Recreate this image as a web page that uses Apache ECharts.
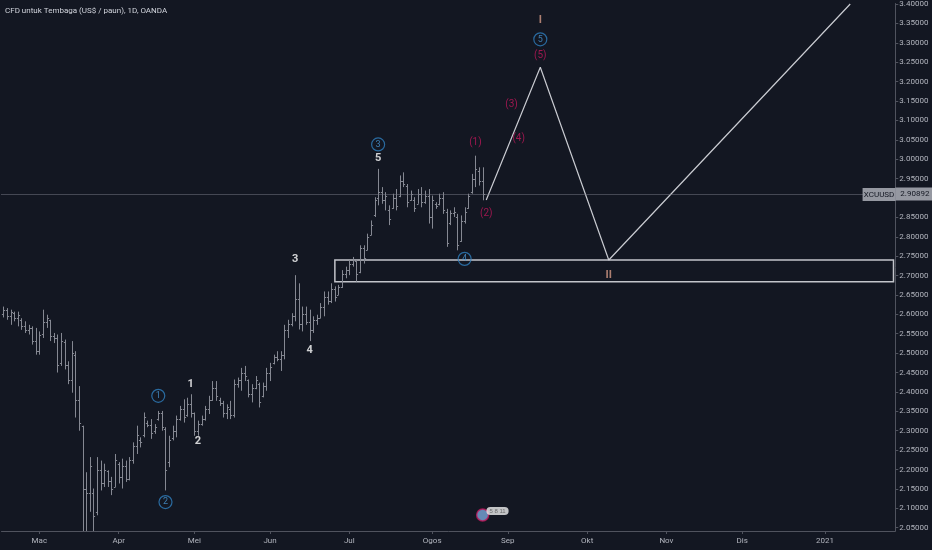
<!DOCTYPE html>
<html>
<head>
    <meta charset="utf-8">
    <title>XCUUSD</title>
    <style type="text/css">
        html, body { margin: 0; padding: 0; background: #131722; }
        #main { width: 932px; height: 550px; }
    </style>
</head>
<body>
<div id="main"></div>

<script type="text/javascript" src="https://cdn.jsdelivr.net/npm/echarts@6.0.0/dist/echarts.min.js"></script>
<script type="text/javascript">
    // bulan (Bahasa Melayu / Indonesia) for the time axis
    var monthNames = ['Jan', 'Feb', 'Mac', 'Apr', 'Mei', 'Jun', 'Jul', 'Ogos', 'Sep', 'Okt', 'Nov', 'Dis'];
    var firstDay = '2020-02-17';
    var closedDays = ['2020-04-10'];
    var dayCount = 248;

    // price axis labels
    var priceTicks = [2.05, 2.10, 2.15, 2.20, 2.25, 2.30, 2.35, 2.40, 2.45, 2.50, 2.55, 2.60, 2.65, 2.70,
        2.75, 2.80, 2.85, 2.90, 2.95, 3.00, 3.05, 3.10, 3.15, 3.20, 3.25, 3.30, 3.35, 3.40];
    var priceMin = 2.0415, priceMax = 3.4013;

    // daily bars from 2020-02-17: open, high, low, close
    var ohlc = [
        [2.600, 2.620, 2.592, 2.612], [2.612, 2.616, 2.586, 2.595], [2.597, 2.612, 2.573, 2.605],
        [2.604, 2.607, 2.582, 2.590], [2.590, 2.607, 2.569, 2.598], [2.585, 2.590, 2.560, 2.570],
        [2.570, 2.582, 2.552, 2.560], [2.560, 2.573, 2.548, 2.566], [2.565, 2.569, 2.522, 2.530],
        [2.532, 2.565, 2.496, 2.505],
        [2.505, 2.556, 2.496, 2.548], [2.550, 2.612, 2.539, 2.580], [2.580, 2.599, 2.565, 2.590],
        [2.585, 2.586, 2.531, 2.545], [2.545, 2.552, 2.526, 2.540], [2.540, 2.548, 2.450, 2.470],
        [2.475, 2.552, 2.467, 2.530], [2.528, 2.535, 2.458, 2.470], [2.470, 2.479, 2.420, 2.430],
        [2.430, 2.531, 2.398, 2.500], [2.495, 2.505, 2.334, 2.380], [2.380, 2.415, 2.300, 2.320],
        [2.312, 2.313, 2.020, 2.150], [2.150, 2.193, 2.020, 2.140], [2.140, 2.232, 2.091, 2.210],
        [2.140, 2.151, 2.020, 2.080], [2.090, 2.232, 2.082, 2.200], [2.200, 2.223, 2.146, 2.165],
        [2.165, 2.215, 2.155, 2.200], [2.195, 2.198, 2.155, 2.170], [2.170, 2.181, 2.134, 2.150],
        [2.155, 2.240, 2.155, 2.225],
        [2.215, 2.219, 2.164, 2.180], [2.180, 2.228, 2.151, 2.210], [2.210, 2.223, 2.168, 2.175],
        [2.175, 2.232, 2.172, 2.225], [2.225, 2.270, 2.215, 2.260], [2.260, 2.313, 2.240, 2.290],
        [2.275, 2.283, 2.257, 2.270], [2.290, 2.347, 2.283, 2.335], [2.320, 2.326, 2.309, 2.315],
        [2.315, 2.330, 2.279, 2.295], [2.300, 2.317, 2.292, 2.310], [2.330, 2.351, 2.326, 2.345],
        [2.345, 2.351, 2.300, 2.310], [2.305, 2.309, 2.146, 2.200], [2.220, 2.287, 2.206, 2.275],
        [2.280, 2.313, 2.275, 2.300], [2.300, 2.339, 2.283, 2.330], [2.330, 2.364, 2.326, 2.355],
        [2.355, 2.381, 2.321, 2.335], [2.340, 2.385, 2.336, 2.370], [2.370, 2.394, 2.334, 2.345],
        [2.345, 2.347, 2.287, 2.300], [2.300, 2.326, 2.287, 2.318], [2.318, 2.339, 2.313, 2.330],
        [2.330, 2.364, 2.326, 2.355], [2.355, 2.390, 2.343, 2.380], [2.380, 2.428, 2.377, 2.410],
        [2.410, 2.428, 2.377, 2.390], [2.380, 2.385, 2.364, 2.372], [2.372, 2.377, 2.334, 2.345],
        [2.345, 2.368, 2.330, 2.360], [2.355, 2.377, 2.330, 2.340], [2.340, 2.432, 2.334, 2.420],
        [2.420, 2.437, 2.411, 2.430], [2.430, 2.462, 2.403, 2.450], [2.450, 2.467, 2.428, 2.440],
        [2.430, 2.432, 2.386, 2.395], [2.395, 2.420, 2.373, 2.410], [2.410, 2.441, 2.407, 2.430],
        [2.420, 2.424, 2.360, 2.375], [2.390, 2.424, 2.386, 2.415], [2.415, 2.462, 2.403, 2.450],
        [2.450, 2.475, 2.428, 2.465], [2.475, 2.496, 2.471, 2.490], [2.490, 2.505, 2.479, 2.485],
        [2.485, 2.505, 2.454, 2.495], [2.495, 2.573, 2.484, 2.560], [2.560, 2.586, 2.539, 2.575],
        [2.575, 2.603, 2.569, 2.595], [2.595, 2.701, 2.582, 2.640], [2.640, 2.680, 2.561, 2.575],
        [2.575, 2.620, 2.556, 2.600], [2.600, 2.620, 2.573, 2.580], [2.580, 2.612, 2.531, 2.560],
        [2.560, 2.595, 2.552, 2.585], [2.585, 2.599, 2.573, 2.590], [2.590, 2.629, 2.590, 2.620],
        [2.620, 2.659, 2.595, 2.645], [2.645, 2.659, 2.625, 2.635], [2.635, 2.680, 2.629, 2.665],
        [2.665, 2.672, 2.633, 2.645], [2.650, 2.676, 2.650, 2.670], [2.670, 2.714, 2.668, 2.705],
        [2.705, 2.723, 2.693, 2.715], [2.715, 2.740, 2.701, 2.730], [2.730, 2.748, 2.723, 2.740],
        [2.738, 2.740, 2.684, 2.705], [2.710, 2.778, 2.706, 2.770], [2.770, 2.778, 2.731, 2.745],
        [2.765, 2.808, 2.765, 2.800], [2.805, 2.842, 2.804, 2.830], [2.855, 2.902, 2.851, 2.895],
        [2.900, 2.975, 2.881, 2.915], [2.915, 2.928, 2.885, 2.895], [2.895, 2.915, 2.868, 2.905],
        [2.870, 2.881, 2.830, 2.845], [2.875, 2.911, 2.872, 2.900], [2.900, 2.923, 2.868, 2.880],
        [2.905, 2.958, 2.902, 2.945], [2.945, 2.966, 2.928, 2.935], [2.930, 2.936, 2.876, 2.890],
        [2.895, 2.919, 2.893, 2.910], [2.895, 2.902, 2.864, 2.875], [2.885, 2.923, 2.885, 2.910],
        [2.910, 2.928, 2.876, 2.890], [2.890, 2.919, 2.885, 2.905], [2.905, 2.923, 2.834, 2.850],
        [2.850, 2.906, 2.821, 2.895], [2.885, 2.889, 2.872, 2.880], [2.885, 2.911, 2.881, 2.900],
        [2.900, 2.915, 2.859, 2.870], [2.865, 2.872, 2.774, 2.785], [2.835, 2.868, 2.830, 2.860],
        [2.860, 2.876, 2.851, 2.865], [2.850, 2.859, 2.765, 2.780], [2.790, 2.855, 2.787, 2.840],
        [2.840, 2.876, 2.834, 2.865], [2.875, 2.911, 2.872, 2.905], [2.915, 2.962, 2.911, 2.950],
        [2.950, 3.009, 2.928, 2.975], [2.970, 2.979, 2.932, 2.945], [2.945, 2.979, 2.894, 2.909]
    ];
    var lastPrice = 2.90892;

    // projected path after (2)
    var pathDates = ['2020-08-24', '2020-09-14', '2020-10-09', '2021-01-12'];
    var pathPrices = [2.895, 3.237, 2.740, 3.400];

    // support zone
    var zoneFrom = '2020-06-25';
    var zoneTop = 2.740, zoneBottom = 2.684;

    // wave counts: [date, price, text]
    var minorWaves = [['2020-04-30', 2.421, '1'], ['2020-05-04', 2.272, '2'], ['2020-06-10', 2.741, '3'],
        ['2020-06-16', 2.508, '4'], ['2020-07-13', 3.002, '5']];
    var circledWaves = [['2020-04-17', 2.390, '1'], ['2020-04-21', 2.116, '2'], ['2020-07-13', 3.038, '3'],
        ['2020-08-14', 2.743, '4'], ['2020-09-14', 3.309, '5']];
    var subWaves = [['2020-08-19', 3.043, '(1)'], ['2020-08-24', 2.861, '(2)'], ['2020-09-02', 3.140, '(3)'],
        ['2020-09-04', 3.053, '(4)'], ['2020-09-14', 3.266, '(5)']];
    var majorWaves = [['2020-09-14', 3.358, 'I'], ['2020-10-09', 2.702, 'II']];

    var eventMark = ['2020-08-21', 2.083];

    // trading days (weekdays, minus closed days)
    var dates = [];
    var d = new Date(firstDay + 'T00:00:00Z');
    while (dates.length < dayCount) {
        var s = d.toISOString().slice(0, 10);
        var wd = d.getUTCDay();
        if (wd !== 0 && wd !== 6 && closedDays.indexOf(s) < 0) dates.push(s);
        d.setUTCDate(d.getUTCDate() + 1);
    }

    function isMonthStart(i) {
        if (i === 0) return false;
        return dates[i].slice(5, 7) !== dates[i - 1].slice(5, 7);
    }

    var barData = ohlc.map(function (r, i) {
        return [i, r[0], r[1], r[2], r[3]];
    });

    var barColor = '#858892';

    function renderBar(params, api) {
        var cs = params.coordSys;
        var bottom = cs.y + cs.height;
        var idx = api.value(0);
        var o = api.coord([idx, api.value(1)]);
        var h = api.coord([idx, api.value(2)]);
        var l = api.coord([idx, api.value(3)]);
        var c = api.coord([idx, api.value(4)]);
        var x = Math.round(h[0]) + 0.5;
        var w = 1.6;
        var st = { stroke: barColor, lineWidth: 1 };
        return {
            type: 'group',
            children: [
                { type: 'line', shape: { x1: x, y1: h[1], x2: x, y2: Math.min(l[1], bottom) }, style: st },
                { type: 'line', shape: { x1: x - w, y1: Math.round(o[1]) + 0.5, x2: x, y2: Math.round(o[1]) + 0.5 }, style: st },
                { type: 'line', shape: { x1: x, y1: Math.round(c[1]) + 0.5, x2: x + w, y2: Math.round(c[1]) + 0.5 }, style: st }
            ]
        };
    }

    function textSeries(name, data, color, size, weight) {
        return {
            name: name,
            type: 'scatter',
            symbolSize: 1,
            itemStyle: { color: 'rgba(0,0,0,0)' },
            silent: true,
            z: 5,
            label: {
                show: true,
                position: 'inside',
                color: color,
                fontSize: size,
                fontWeight: weight,
                fontFamily: 'Roboto',
                formatter: function (p) { return p.value[2]; }
            },
            data: data
        };
    }

    var myChart = echarts.init(document.getElementById('main'));

    myChart.setOption({
        backgroundColor: '#131722',
        animation: false,
        title: {
            text: 'CFD untuk Tembaga (US$ / paun), 1D, OANDA',
            left: 5,
            top: 7,
            padding: 0,
            textStyle: { color: '#d1d4dc', fontSize: 8, fontWeight: 'normal', fontFamily: 'Roboto' }
        },
        grid: { left: 1.5, right: 36.7, top: 0, bottom: 19 },
        xAxis: {
            type: 'category',
            data: dates,
            boundaryGap: true,
            axisLine: { lineStyle: { color: '#50535e', width: 1 } },
            axisTick: {
                show: true,
                alignWithLabel: true,
                length: 3,
                interval: function (i) { return isMonthStart(i); },
                lineStyle: { color: '#50535e' }
            },
            axisLabel: {
                color: '#b2b5be',
                fontSize: 8,
                fontFamily: 'Roboto',
                margin: 6,
                interval: function (i) { return isMonthStart(i); },
                formatter: function (v) {
                    var m = parseInt(v.slice(5, 7), 10) - 1;
                    return m === 0 ? v.slice(0, 4) : monthNames[m];
                }
            },
            splitLine: { show: false }
        },
        yAxis: {
            type: 'value',
            position: 'right',
            min: priceMin,
            max: priceMax,
            scale: true,
            axisLine: { show: true, lineStyle: { color: '#50535e', width: 1 } },
            axisTick: { show: true, length: 3, customValues: priceTicks, lineStyle: { color: '#50535e' } },
            axisLabel: {
                color: '#b2b5be',
                fontSize: 8,
                fontFamily: 'Roboto',
                margin: 4,
                customValues: priceTicks,
                formatter: function (v) { return v.toFixed(5); }
            },
            splitLine: { show: false }
        },
        series: [
            {
                name: 'XCUUSD',
                type: 'custom',
                renderItem: renderBar,
                encode: { x: 0, y: [1, 2, 3, 4] },
                data: barData,
                z: 3
            },
            {
                name: 'projection',
                type: 'line',
                symbol: 'none',
                clip: true,
                lineStyle: { color: '#c9cbd1', width: 1.2 },
                data: pathDates.map(function (dt, i) { return [dt, pathPrices[i]]; }),
                z: 4,
                markArea: {
                    silent: true,
                    itemStyle: { color: 'rgba(0,0,0,0)', borderColor: '#c3c5cb', borderWidth: 1.5 },
                    data: [[
                        { xAxis: zoneFrom, yAxis: zoneTop },
                        { xAxis: dates[dates.length - 1], yAxis: zoneBottom }
                    ]]
                },
                markLine: {
                    silent: true,
                    symbol: 'none',
                    animation: false,
                    lineStyle: { color: '#787b86', type: 'dotted', width: 1 },
                    label: {
                        show: true,
                        position: 'end',
                        distance: 0,
                        formatter: function () { return lastPrice.toFixed(5); },
                        backgroundColor: '#9598a1',
                        color: '#131722',
                        fontSize: 8,
                        fontFamily: 'Roboto',
                        padding: [3, 5, 2, 5]
                    },
                    data: [{ yAxis: lastPrice }]
                },
                markPoint: {
                    silent: true,
                    symbol: 'rect',
                    symbolSize: [33, 13],
                    itemStyle: { color: '#9598a1' },
                    label: { show: true, color: '#131722', fontSize: 8, fontFamily: 'Roboto', formatter: 'XCUUSD' },
                    data: [{ coord: ['2021-01-22', lastPrice] }]
                }
            },
            textSeries('minor', minorWaves, '#ffffff', 11, 'bold'),
            {
                name: 'circled',
                type: 'scatter',
                symbol: 'circle',
                symbolSize: 13,
                silent: true,
                z: 5,
                itemStyle: { color: 'rgba(0,0,0,0)', borderColor: '#2f7fbf', borderWidth: 1.2 },
                label: {
                    show: true,
                    position: 'inside',
                    color: '#4a9ad8',
                    fontSize: 9,
                    fontFamily: 'Roboto',
                    formatter: function (p) { return p.value[2]; }
                },
                data: circledWaves
            },
            textSeries('sub', subWaves, '#c2185b', 10, 'normal'),
            textSeries('major', majorWaves, '#d49a86', 11, 'bold'),
            {
                name: 'event',
                type: 'scatter',
                symbol: 'circle',
                symbolSize: 12,
                silent: true,
                z: 6,
                itemStyle: { color: '#7aa7dc', borderColor: '#c2185b', borderWidth: 1.5 },
                label: {
                    show: true,
                    position: 'right',
                    distance: -3,
                    offset: [0, -4],
                    backgroundColor: '#f0f0f0',
                    borderRadius: 5,
                    padding: [1, 3],
                    color: '#555',
                    fontSize: 6,
                    formatter: '5 8 11'
                },
                data: [eventMark]
            }
        ]
    });
</script>

</body>
</html>
